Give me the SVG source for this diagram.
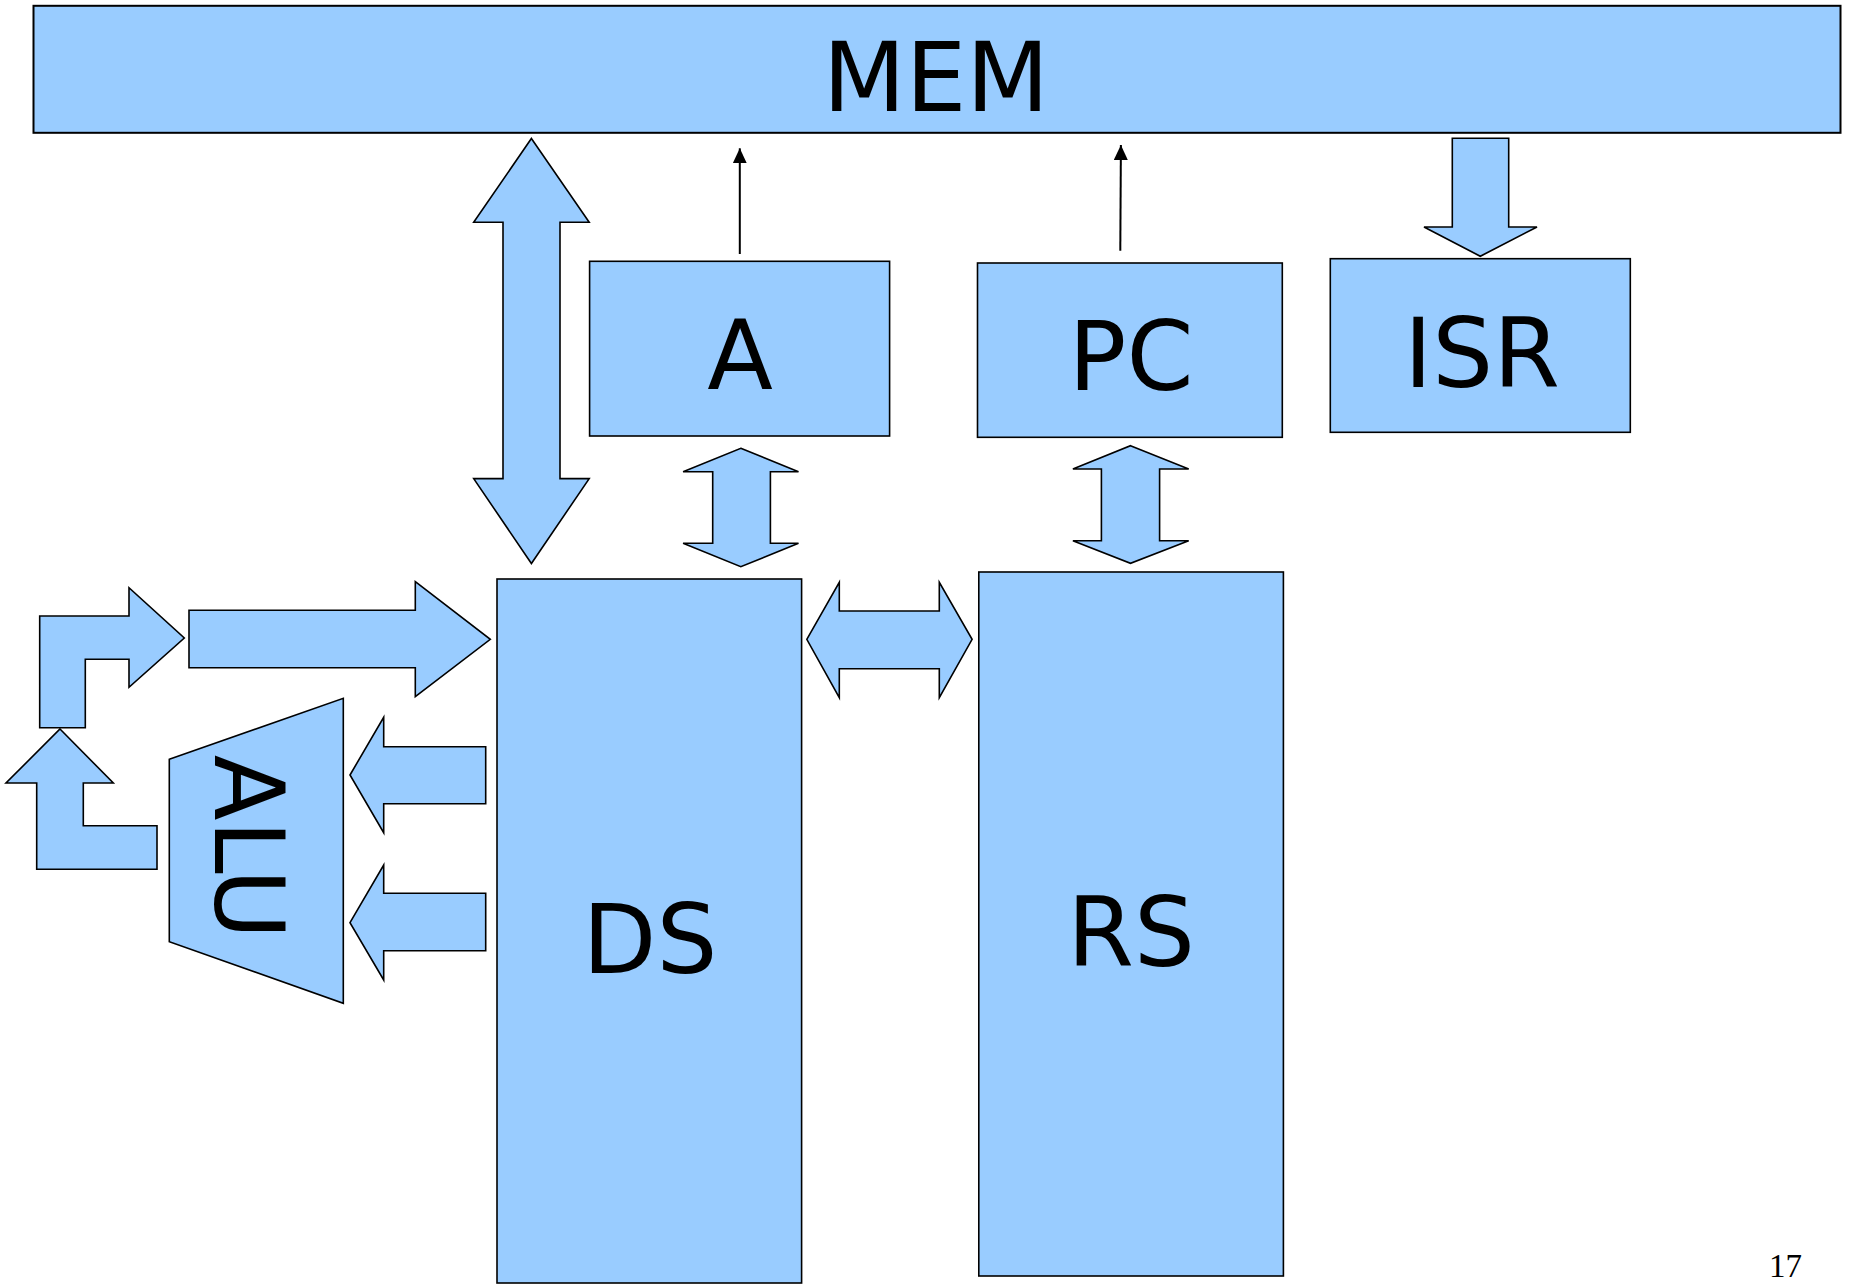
<svg xmlns="http://www.w3.org/2000/svg" width="1856" height="1286" viewBox="0 0 1856 1286">
<style>
.box{fill:#99ccff;stroke:#000;stroke-width:1.6}
.blk{fill:#99ccff;stroke:#000;stroke-width:1.6;stroke-linejoin:miter}
.lbl{font-family:"DejaVu Sans","Liberation Sans",sans-serif;font-size:96px;fill:#000;text-anchor:middle}
.ln{stroke:#000;stroke-width:2;fill:none}
</style>
<defs>
<marker id="ah" viewBox="0 0 15 14" refX="15" refY="7" markerWidth="15" markerHeight="14" markerUnits="userSpaceOnUse" orient="auto">
<path d="M0,0 L15,7 L0,14 z" fill="#000"/>
</marker>
</defs>
<rect width="1856" height="1286" fill="#fff"/>
<g id="MEM"><rect class="box" x="33.5" y="5.8" width="1807" height="127" style="stroke-width:2"/><text class="lbl" x="936" y="111">MEM</text></g>
<g id="A"><rect class="box" x="589.6" y="261.3" width="300" height="174.7"/><text class="lbl" x="740" y="389">A</text></g>
<g id="PC"><rect class="box" x="977.5" y="263" width="304.8" height="174.3"/><text class="lbl" x="1131" y="390">PC</text></g>
<g id="ISR"><rect class="box" x="1330.3" y="258.7" width="300" height="173.6"/><text class="lbl" x="1482" y="386.5">ISR</text></g>
<g id="DS"><rect class="box" x="497" y="579" width="304.6" height="704"/><text class="lbl" x="650" y="973">DS</text></g>
<g id="RS"><rect class="box" x="978.8" y="572" width="304.6" height="704"/><text class="lbl" x="1131" y="966">RS</text></g>
<g id="ALU"><polygon class="box" points="169.3,759.3 343.3,698.3 343.3,1003.3 169.3,941.7"/><text class="lbl" transform="translate(215,847) rotate(90)">ALU</text></g>
<g id="connectors">
<polygon class="blk" points="531.4,138.5 589.2,222.3 560,222.3 560,478.6 589.2,478.6 531.4,563.5 473.7,478.6 503,478.6 503,222.3 473.7,222.3"/>
<line class="ln" x1="739.8" y1="254" x2="739.8" y2="148.3" marker-end="url(#ah)"/>
<line class="ln" x1="1120.3" y1="250.7" x2="1120.9" y2="145" marker-end="url(#ah)"/>
<polygon class="blk" points="1452.3,138.3 1508.7,138.3 1508.7,227 1537,227 1480.3,256.3 1424,227 1452.3,227"/>
<polygon class="blk" points="740.8,448.3 798.5,471.7 770.4,471.7 770.4,543.3 798.5,543.3 740.8,566.7 683.1,543.3 712.7,543.3 712.7,471.7 683.1,471.7"/>
<polygon class="blk" points="1130.5,445.7 1188.7,469 1159.6,469 1159.6,540.7 1188.7,540.7 1130.5,563.3 1072.9,540.7 1101.4,540.7 1101.4,469 1072.9,469"/>
<polygon class="blk" points="806.8,639.3 839.3,582.3 839.3,611 939.3,611 939.3,582.3 972.1,639.3 939.3,697.7 939.3,668.7 839.3,668.7 839.3,697.7"/>
<polygon class="blk" points="189,610.3 415.3,610.3 415.3,581.7 490.3,639.3 415.3,696.7 415.3,667.7 189,667.7"/>
<polygon class="blk" points="39.7,727.7 39.7,616 129,616 129,587.7 184.3,638 129,687.3 129,659.3 85.3,659.3 85.3,727.7"/>
<polygon class="blk" points="60,729 113.3,783 83.3,783 83.3,825.7 157,825.7 157,869.3 36.7,869.3 36.7,783 6,783"/>
<polygon class="blk" points="350,775 383.7,717.3 383.7,746.7 485.7,746.7 485.7,803.7 383.7,803.7 383.7,832.7"/>
<polygon class="blk" points="350,922.7 383.7,865 383.7,893.3 485.7,893.3 485.7,950.7 383.7,950.7 383.7,980"/>
</g>
<text x="1769" y="1277" font-family="Liberation Serif,serif" font-size="33" fill="#000">17</text>
</svg>
